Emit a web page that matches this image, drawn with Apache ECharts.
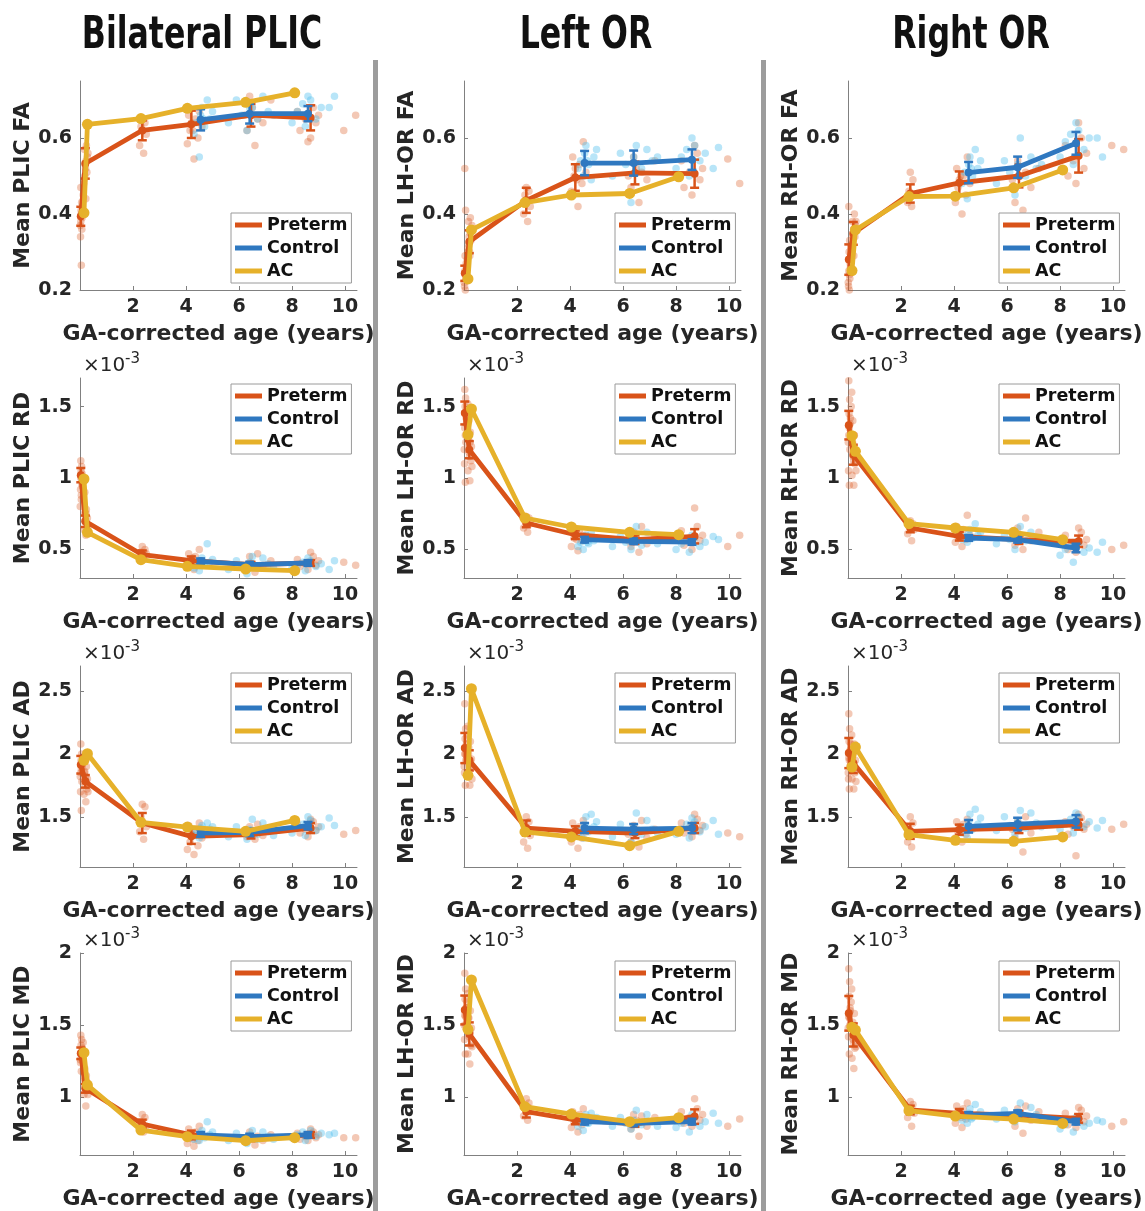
<!DOCTYPE html>
<html>
<head>
<meta charset="utf-8">
<script src="https://cdn.jsdelivr.net/npm/echarts@6/dist/echarts.min.js"></script>
<style>html,body{margin:0;background:#fff}#chart{width:1145px;height:1211px}</style>
</head>
<body>
<div id="chart"></div>
<script>
// subject ages (same subjects in every panel)
const preAges = [
  0.05, 0.02, 0.07, 0.03, 0.08, 0.04, 0.06, 0.03,
  0.22, 0.15, 0.26, 0.19, 0.28, 0.17, 0.24, 0.21,
  2.4, 2.25, 2.5, 2.3, 2.45, 2.35,
  4.3, 4.05, 4.45, 4.15, 4.6, 4.2, 4.35, 4.1, 4.5, 4.25,
  6.6, 6.3, 6.9, 6.2, 6.5, 7.2, 6.4, 6.7,
  8.6, 8.3, 8.9, 8.5, 9.0, 8.2, 8.8, 8.7, 9.95, 10.4,
  0.01, 0.05, 0.09, 0.12, 0.14, 0.18, 0.23, 0.3
];
const conAges = [
  4.5, 4.3, 4.7, 4.4, 4.9, 4.55, 5.0, 4.6, 4.8, 4.65,
  6.3, 5.6, 6.7, 6.1, 7.1, 6.4, 5.9, 6.9, 6.5, 7.3,
  8.5, 8.0, 8.9, 8.2, 9.1, 8.4, 8.7, 8.6, 9.4, 9.6
];
// group mean ages
const xPre = [0.03, 0.2, 2.35, 4.2, 6.45, 8.7];
const xCon = [4.55, 6.4, 8.6];
const xAC = [0.15, 0.28, 2.3, 4.05, 6.25, 8.1];

// ---- PLIC FA
const plicFA_pre = [0.394, 0.533, 0.62, 0.636, 0.66, 0.653];
const plicFA_preErr = [0.025, 0.04, 0.026, 0.036, 0.03, 0.033];
const plicFA_con = [0.648, 0.664, 0.664];
const plicFA_conErr = [0.028, 0.026, 0.02];
const plicFA_ac = [0.403, 0.636, 0.651, 0.678, 0.694, 0.719];
const plicFA_prePts = [0.265, 0.34, 0.36, 0.38, 0.39, 0.41, 0.43, 0.47,
  0.44, 0.49, 0.51, 0.53, 0.55, 0.57, 0.58, 0.52,
  0.56, 0.58, 0.61, 0.63, 0.64, 0.65,
  0.545, 0.585, 0.6, 0.62, 0.63, 0.64, 0.65, 0.66, 0.67, 0.62,
  0.58, 0.62, 0.64, 0.66, 0.68, 0.7, 0.71, 0.65,
  0.59, 0.62, 0.64, 0.65, 0.66, 0.67, 0.68, 0.6, 0.62, 0.66,
  0.37, 0.4, 0.42, 0.45, 0.48, 0.5, 0.54, 0.56];
const plicFA_conPts = [0.55, 0.61, 0.63, 0.64, 0.65, 0.66, 0.67, 0.68, 0.7, 0.65,
  0.62, 0.64, 0.65, 0.66, 0.67, 0.68, 0.7, 0.71, 0.68, 0.66,
  0.63, 0.64, 0.65, 0.67, 0.68, 0.69, 0.7, 0.71, 0.68, 0.71];

// ---- LH-OR FA
const lhFA_pre = [0.244, 0.327, 0.436, 0.496, 0.508, 0.506];
const lhFA_preErr = [0.02, 0.03, 0.033, 0.035, 0.03, 0.037];
const lhFA_con = [0.534, 0.534, 0.543];
const lhFA_conErr = [0.032, 0.033, 0.027];
const lhFA_ac = [0.229, 0.358, 0.43, 0.45, 0.454, 0.498];
const lhFA_prePts = [0.2, 0.21, 0.23, 0.25, 0.27, 0.29, 0.41, 0.52,
  0.29, 0.31, 0.33, 0.34, 0.36, 0.38, 0.39, 0.3,
  0.38, 0.4, 0.42, 0.45, 0.46, 0.47,
  0.42, 0.46, 0.48, 0.5, 0.51, 0.52, 0.53, 0.55, 0.59, 0.49,
  0.43, 0.47, 0.49, 0.5, 0.52, 0.54, 0.55, 0.51,
  0.45, 0.47, 0.49, 0.51, 0.52, 0.54, 0.56, 0.58, 0.545, 0.48,
  0.22, 0.24, 0.26, 0.28, 0.3, 0.32, 0.35, 0.37];
const lhFA_conPts = [0.5, 0.52, 0.53, 0.54, 0.55, 0.56, 0.57, 0.58, 0.49, 0.54,
  0.43, 0.5, 0.52, 0.53, 0.54, 0.55, 0.56, 0.57, 0.58, 0.55,
  0.5, 0.52, 0.54, 0.55, 0.56, 0.57, 0.58, 0.6, 0.52, 0.575];

// ---- RH-OR FA
const rhFA_pre = [0.28, 0.349, 0.454, 0.482, 0.5, 0.553];
const rhFA_preErr = [0.04, 0.03, 0.024, 0.03, 0.03, 0.044];
const rhFA_con = [0.509, 0.523, 0.586];
const rhFA_conErr = [0.028, 0.028, 0.03];
const rhFA_ac = [0.251, 0.358, 0.446, 0.447, 0.469, 0.516];
const rhFA_prePts = [0.2, 0.21, 0.23, 0.25, 0.27, 0.3, 0.33, 0.42,
  0.29, 0.32, 0.34, 0.35, 0.37, 0.38, 0.4, 0.36,
  0.42, 0.43, 0.45, 0.46, 0.49, 0.51,
  0.4, 0.43, 0.45, 0.47, 0.48, 0.49, 0.5, 0.52, 0.55, 0.5,
  0.41, 0.43, 0.47, 0.49, 0.5, 0.52, 0.54, 0.51,
  0.48, 0.5, 0.52, 0.54, 0.56, 0.58, 0.6, 0.64, 0.58, 0.57,
  0.22, 0.24, 0.26, 0.28, 0.31, 0.34, 0.36, 0.38];
const rhFA_conPts = [0.44, 0.48, 0.5, 0.51, 0.52, 0.53, 0.54, 0.55, 0.57, 0.52,
  0.45, 0.48, 0.5, 0.51, 0.52, 0.53, 0.54, 0.55, 0.6, 0.53,
  0.53, 0.55, 0.57, 0.59, 0.6, 0.61, 0.62, 0.64, 0.6, 0.55];

// ---- PLIC RD (x10^-3)
const plicRD_pre = [1.02, 0.697, 0.463, 0.421, 0.393, 0.405];
const plicRD_preErr = [0.05, 0.04, 0.03, 0.03, 0.02, 0.02];
const plicRD_con = [0.417, 0.393, 0.405];
const plicRD_conErr = [0.02, 0.02, 0.02];
const plicRD_ac = [0.993, 0.62, 0.428, 0.382, 0.363, 0.351];
const plicRD_prePts = [0.85, 0.92, 0.96, 1.0, 1.03, 1.05, 1.08, 1.12,
  0.6, 0.64, 0.67, 0.7, 0.72, 0.75, 0.78, 0.69,
  0.43, 0.45, 0.47, 0.48, 0.5, 0.52,
  0.36, 0.38, 0.4, 0.41, 0.42, 0.43, 0.45, 0.47, 0.5, 0.44,
  0.34, 0.36, 0.38, 0.39, 0.4, 0.42, 0.45, 0.47,
  0.36, 0.38, 0.39, 0.4, 0.42, 0.43, 0.45, 0.48, 0.41, 0.39,
  0.8, 0.88, 0.94, 0.98, 1.0, 0.9, 0.75, 0.66];
const plicRD_conPts = [0.35, 0.37, 0.39, 0.4, 0.41, 0.42, 0.43, 0.44, 0.54, 0.4,
  0.33, 0.36, 0.38, 0.39, 0.4, 0.41, 0.42, 0.44, 0.45, 0.37,
  0.35, 0.37, 0.38, 0.39, 0.4, 0.41, 0.42, 0.44, 0.36, 0.42];

// ---- LH-OR RD
const lhRD_pre = [1.455, 1.198, 0.685, 0.603, 0.568, 0.592];
const lhRD_preErr = [0.08, 0.06, 0.03, 0.03, 0.03, 0.05];
const lhRD_con = [0.568, 0.557, 0.552];
const lhRD_conErr = [0.02, 0.02, 0.02];
const lhRD_ac = [1.303, 1.483, 0.72, 0.657, 0.62, 0.603];
const lhRD_prePts = [0.97, 1.1, 1.25, 1.35, 1.42, 1.5, 1.56, 1.62,
  0.98, 1.05, 1.12, 1.18, 1.22, 1.28, 1.32, 1.15,
  0.62, 0.65, 0.68, 0.7, 0.72, 0.73,
  0.49, 0.52, 0.56, 0.58, 0.6, 0.62, 0.63, 0.65, 0.6, 0.57,
  0.48, 0.52, 0.54, 0.56, 0.58, 0.6, 0.62, 0.66,
  0.5, 0.53, 0.56, 0.58, 0.6, 0.63, 0.66, 0.79, 0.52, 0.6,
  1.2, 1.3, 1.38, 1.45, 1.52, 1.4, 1.25, 1.08];
const lhRD_conPts = [0.5, 0.52, 0.54, 0.55, 0.56, 0.57, 0.58, 0.6, 0.62, 0.55,
  0.5, 0.52, 0.53, 0.55, 0.56, 0.57, 0.59, 0.62, 0.66, 0.54,
  0.48, 0.5, 0.52, 0.54, 0.55, 0.56, 0.58, 0.6, 0.59, 0.57];

// ---- RH-OR RD
const rhRD_pre = [1.37, 1.163, 0.65, 0.592, 0.568, 0.557];
const rhRD_preErr = [0.1, 0.07, 0.03, 0.03, 0.03, 0.04];
const rhRD_con = [0.58, 0.568, 0.51];
const rhRD_conErr = [0.02, 0.02, 0.03];
const rhRD_ac = [1.296, 1.187, 0.68, 0.65, 0.62, 0.568];
const rhRD_prePts = [0.95, 1.05, 1.2, 1.3, 1.38, 1.45, 1.55, 1.68,
  0.95, 1.02, 1.1, 1.15, 1.2, 1.25, 1.3, 1.12,
  0.56, 0.61, 0.64, 0.66, 0.68, 0.7,
  0.52, 0.55, 0.57, 0.59, 0.6, 0.62, 0.64, 0.66, 0.74, 0.58,
  0.5, 0.53, 0.56, 0.58, 0.6, 0.62, 0.65, 0.72,
  0.48, 0.5, 0.53, 0.55, 0.57, 0.6, 0.62, 0.65, 0.5, 0.53,
  1.25, 1.35, 1.42, 1.5, 1.6, 1.4, 1.3, 1.05];
const rhRD_conPts = [0.55, 0.57, 0.58, 0.59, 0.6, 0.61, 0.62, 0.64, 0.68, 0.58,
  0.5, 0.54, 0.56, 0.57, 0.58, 0.59, 0.6, 0.62, 0.66, 0.56,
  0.41, 0.46, 0.48, 0.5, 0.51, 0.52, 0.54, 0.55, 0.48, 0.55];

// ---- PLIC AD
const plicAD_pre = [1.914, 1.782, 1.45, 1.344, 1.357, 1.41];
const plicAD_preErr = [0.07, 0.05, 0.08, 0.06, 0.03, 0.04];
const plicAD_con = [1.37, 1.376, 1.429];
const plicAD_conErr = [0.03, 0.03, 0.03];
const plicAD_ac = [1.949, 2.002, 1.456, 1.418, 1.384, 1.471];
const plicAD_prePts = [1.55, 1.7, 1.78, 1.85, 1.9, 1.95, 2.0, 2.08,
  1.62, 1.68, 1.72, 1.75, 1.8, 1.85, 1.9, 1.82,
  1.32, 1.38, 1.42, 1.5, 1.58, 1.6,
  1.2, 1.24, 1.27, 1.3, 1.33, 1.36, 1.4, 1.43, 1.45, 1.35,
  1.32, 1.34, 1.35, 1.37, 1.38, 1.4, 1.42, 1.44,
  1.34, 1.37, 1.39, 1.4, 1.42, 1.44, 1.46, 1.48, 1.36, 1.39,
  1.82, 1.88, 1.92, 1.96, 1.98, 1.86, 1.78, 1.7];
const plicAD_conPts = [1.33, 1.35, 1.37, 1.38, 1.4, 1.41, 1.42, 1.43, 1.45, 1.36,
  1.32, 1.34, 1.36, 1.37, 1.38, 1.4, 1.42, 1.45, 1.48, 1.35,
  1.35, 1.37, 1.39, 1.41, 1.42, 1.44, 1.47, 1.5, 1.49, 1.43];

// ---- LH-OR AD
const lhAD_pre = [2.047, 1.949, 1.41, 1.384, 1.37, 1.41];
const lhAD_preErr = [0.12, 0.08, 0.06, 0.04, 0.04, 0.04];
const lhAD_con = [1.41, 1.402, 1.41];
const lhAD_conErr = [0.04, 0.04, 0.04];
const lhAD_ac = [1.83, 2.519, 1.379, 1.339, 1.27, 1.384];
const lhAD_prePts = [1.75, 1.85, 1.95, 2.0, 2.05, 2.12, 2.2, 2.4,
  1.75, 1.82, 1.88, 1.92, 1.96, 2.0, 2.1, 1.9,
  1.25, 1.3, 1.35, 1.4, 1.46, 1.5,
  1.25, 1.3, 1.33, 1.35, 1.38, 1.4, 1.42, 1.45, 1.47, 1.36,
  1.26, 1.3, 1.33, 1.36, 1.38, 1.4, 1.43, 1.47,
  1.34, 1.37, 1.39, 1.41, 1.43, 1.45, 1.48, 1.52, 1.37, 1.34,
  1.9, 2.0, 2.08, 2.15, 2.22, 2.05, 1.95, 1.8];
const lhAD_conPts = [1.33, 1.36, 1.38, 1.4, 1.42, 1.44, 1.46, 1.5, 1.52, 1.41,
  1.3, 1.34, 1.36, 1.38, 1.4, 1.42, 1.44, 1.47, 1.53, 1.37,
  1.33, 1.36, 1.38, 1.4, 1.42, 1.44, 1.46, 1.49, 1.47, 1.36];

// ---- RH-OR AD
const rhAD_pre = [2.007, 1.928, 1.384, 1.397, 1.41, 1.437];
const rhAD_preErr = [0.12, 0.08, 0.06, 0.04, 0.04, 0.04];
const rhAD_con = [1.424, 1.442, 1.463];
const rhAD_conErr = [0.05, 0.05, 0.05];
const rhAD_ac = [1.896, 2.055, 1.357, 1.312, 1.304, 1.339];
const rhAD_prePts = [1.72, 1.8, 1.9, 1.97, 2.03, 2.1, 2.2, 2.32,
  1.72, 1.8, 1.85, 1.9, 1.95, 2.0, 2.08, 1.88,
  1.26, 1.3, 1.36, 1.4, 1.45, 1.5,
  1.3, 1.33, 1.36, 1.38, 1.4, 1.42, 1.44, 1.46, 1.48, 1.38,
  1.22, 1.33, 1.37, 1.4, 1.42, 1.44, 1.46, 1.5,
  1.19, 1.36, 1.4, 1.42, 1.44, 1.46, 1.49, 1.52, 1.4, 1.44,
  1.85, 1.95, 2.02, 2.08, 2.15, 2.0, 1.92, 1.78];
const rhAD_conPts = [1.33, 1.37, 1.4, 1.42, 1.44, 1.46, 1.49, 1.52, 1.56, 1.4,
  1.36, 1.39, 1.41, 1.43, 1.45, 1.47, 1.5, 1.53, 1.55, 1.42,
  1.37, 1.4, 1.42, 1.44, 1.46, 1.48, 1.5, 1.53, 1.41, 1.47];

// ---- PLIC MD
const plicMD_pre = [1.305, 1.062, 0.815, 0.739, 0.716, 0.739];
const plicMD_preErr = [0.04, 0.03, 0.03, 0.03, 0.02, 0.02];
const plicMD_con = [0.739, 0.727, 0.739];
const plicMD_conErr = [0.02, 0.02, 0.02];
const plicMD_ac = [1.309, 1.085, 0.773, 0.727, 0.699, 0.72];
const plicMD_prePts = [1.18, 1.24, 1.28, 1.3, 1.33, 1.36, 1.4, 1.43,
  0.94, 1.02, 1.05, 1.08, 1.1, 1.12, 1.15, 1.06,
  0.76, 0.78, 0.8, 0.83, 0.86, 0.88,
  0.66, 0.68, 0.7, 0.72, 0.73, 0.74, 0.76, 0.78, 0.8, 0.71,
  0.67, 0.69, 0.7, 0.71, 0.72, 0.74, 0.76, 0.73,
  0.7, 0.71, 0.72, 0.73, 0.74, 0.75, 0.76, 0.78, 0.72, 0.72,
  1.26, 1.3, 1.34, 1.38, 1.32, 1.2, 1.12, 1.02];
const plicMD_conPts = [0.7, 0.71, 0.72, 0.73, 0.74, 0.75, 0.76, 0.77, 0.83, 0.73,
  0.68, 0.7, 0.71, 0.72, 0.73, 0.74, 0.75, 0.76, 0.77, 0.71,
  0.7, 0.72, 0.73, 0.74, 0.75, 0.76, 0.77, 0.73, 0.74, 0.75];

// ---- LH-OR MD
const lhMD_pre = [1.605, 1.439, 0.9, 0.843, 0.815, 0.866];
const lhMD_preErr = [0.1, 0.08, 0.04, 0.03, 0.02, 0.05];
const lhMD_con = [0.831, 0.819, 0.831];
const lhMD_conErr = [0.02, 0.02, 0.02];
const lhMD_ac = [1.471, 1.813, 0.935, 0.884, 0.831, 0.859];
const lhMD_prePts = [1.3, 1.4, 1.5, 1.57, 1.62, 1.68, 1.75, 1.86,
  1.23, 1.3, 1.36, 1.42, 1.48, 1.55, 1.6, 1.45,
  0.84, 0.87, 0.9, 0.93, 0.96, 0.99,
  0.76, 0.79, 0.81, 0.83, 0.85, 0.87, 0.88, 0.9, 0.92, 0.84,
  0.73, 0.78, 0.8, 0.82, 0.84, 0.86, 0.88, 0.87,
  0.8, 0.82, 0.84, 0.86, 0.88, 0.9, 0.92, 0.99, 0.8, 0.85,
  1.5, 1.56, 1.62, 1.66, 1.72, 1.55, 1.45, 1.35];
const lhMD_conPts = [0.77, 0.8, 0.82, 0.83, 0.84, 0.85, 0.86, 0.88, 0.89, 0.82,
  0.78, 0.8, 0.81, 0.82, 0.83, 0.84, 0.86, 0.88, 0.91, 0.8,
  0.76, 0.79, 0.8, 0.82, 0.83, 0.84, 0.86, 0.88, 0.89, 0.82];

// ---- RH-OR MD
const rhMD_pre = [1.582, 1.432, 0.912, 0.889, 0.877, 0.854];
const rhMD_preErr = [0.12, 0.08, 0.03, 0.03, 0.03, 0.03];
const rhMD_con = [0.877, 0.889, 0.831];
const rhMD_conErr = [0.02, 0.02, 0.02];
const rhMD_ac = [1.485, 1.466, 0.907, 0.87, 0.849, 0.819];
const rhMD_prePts = [1.3, 1.42, 1.5, 1.56, 1.62, 1.7, 1.8, 1.89,
  1.2, 1.27, 1.34, 1.4, 1.45, 1.5, 1.58, 1.38,
  0.8, 0.86, 0.89, 0.92, 0.95, 0.97,
  0.79, 0.82, 0.85, 0.87, 0.88, 0.9, 0.92, 0.94, 0.96, 0.86,
  0.75, 0.8, 0.84, 0.86, 0.88, 0.9, 0.92, 0.94,
  0.79, 0.81, 0.83, 0.85, 0.87, 0.89, 0.91, 0.93, 0.8, 0.83,
  1.48, 1.55, 1.6, 1.66, 1.75, 1.52, 1.45, 1.35];
const rhMD_conPts = [0.82, 0.84, 0.86, 0.87, 0.88, 0.89, 0.9, 0.92, 0.95, 0.85,
  0.83, 0.85, 0.86, 0.87, 0.88, 0.9, 0.91, 0.93, 0.96, 0.84,
  0.76, 0.78, 0.8, 0.81, 0.82, 0.84, 0.85, 0.86, 0.84, 0.83];

const colTitles = ['Bilateral PLIC', 'Left OR', 'Right OR'];
const yNames = [
  ['Mean PLIC FA', 'Mean LH-OR FA', 'Mean RH-OR FA'],
  ['Mean PLIC RD', 'Mean LH-OR RD', 'Mean RH-OR RD'],
  ['Mean PLIC AD', 'Mean LH-OR AD', 'Mean RH-OR AD'],
  ['Mean PLIC MD', 'Mean LH-OR MD', 'Mean RH-OR MD']
];
const yRange = [[0.2, 0.75], [0.3, 1.7], [1.1, 2.7], [0.6, 2]];
const yTicks = [[0.2, 0.4, 0.6], [0.5, 1, 1.5], [1.5, 2, 2.5], [1, 1.5, 2]];
const xTicks = [2, 4, 6, 8, 10];

const panels = [
  [plicFA_pre, plicFA_preErr, plicFA_con, plicFA_conErr, plicFA_ac, plicFA_prePts, plicFA_conPts],
  [lhFA_pre, lhFA_preErr, lhFA_con, lhFA_conErr, lhFA_ac, lhFA_prePts, lhFA_conPts],
  [rhFA_pre, rhFA_preErr, rhFA_con, rhFA_conErr, rhFA_ac, rhFA_prePts, rhFA_conPts],
  [plicRD_pre, plicRD_preErr, plicRD_con, plicRD_conErr, plicRD_ac, plicRD_prePts, plicRD_conPts],
  [lhRD_pre, lhRD_preErr, lhRD_con, lhRD_conErr, lhRD_ac, lhRD_prePts, lhRD_conPts],
  [rhRD_pre, rhRD_preErr, rhRD_con, rhRD_conErr, rhRD_ac, rhRD_prePts, rhRD_conPts],
  [plicAD_pre, plicAD_preErr, plicAD_con, plicAD_conErr, plicAD_ac, plicAD_prePts, plicAD_conPts],
  [lhAD_pre, lhAD_preErr, lhAD_con, lhAD_conErr, lhAD_ac, lhAD_prePts, lhAD_conPts],
  [rhAD_pre, rhAD_preErr, rhAD_con, rhAD_conErr, rhAD_ac, rhAD_prePts, rhAD_conPts],
  [plicMD_pre, plicMD_preErr, plicMD_con, plicMD_conErr, plicMD_ac, plicMD_prePts, plicMD_conPts],
  [lhMD_pre, lhMD_preErr, lhMD_con, lhMD_conErr, lhMD_ac, lhMD_prePts, lhMD_conPts],
  [rhMD_pre, rhMD_preErr, rhMD_con, rhMD_conErr, rhMD_ac, rhMD_prePts, rhMD_conPts]
];

// layout
const colLeft = [80, 464, 848];
const gridW = 277;
const rowTop = [81, 378, 666, 953];
const rowH = [209, 200, 201, 202];
const legendTop = [213, 384, 673, 961];

const RED = '#D95319', BLUE = '#2F78C0', GOLD = '#E6B12A';
const FONT = 'DejaVu Sans';
const TXT = '#262626';
const AXC = '#808080';

function errBar(params, api) {
  const top = api.coord([api.value(0), api.value(2)]);
  const bot = api.coord([api.value(0), api.value(1)]);
  const s = { stroke: api.visual('color'), lineWidth: 2.5 };
  const w = 4.5;
  return {
    type: 'group',
    children: [
      { type: 'line', shape: { x1: top[0], y1: top[1], x2: bot[0], y2: bot[1] }, style: s },
      { type: 'line', shape: { x1: top[0] - w, y1: top[1], x2: top[0] + w, y2: top[1] }, style: s },
      { type: 'line', shape: { x1: bot[0] - w, y1: bot[1], x2: bot[0] + w, y2: bot[1] }, style: s }
    ]
  };
}

const grid = [], xAxis = [], yAxis = [], series = [], legend = [], graphic = [];

panels.forEach((p, i) => {
  const r = Math.floor(i / 3), c = i % 3;
  const [pre, preErr, con, conErr, ac, prePts, conPts] = p;
  grid.push({ left: colLeft[c], top: rowTop[r], width: gridW, height: rowH[r] });
  xAxis.push({
    gridIndex: i, type: 'value', min: 0, max: 10.45,
    axisLine: { show: true, onZero: false, lineStyle: { color: AXC } },
    axisTick: { show: true, inside: true, length: 4, customValues: xTicks, lineStyle: { color: AXC } },
    axisLabel: { customValues: xTicks, margin: 8, fontSize: 19, fontWeight: 'bold', color: TXT, fontFamily: FONT },
    splitLine: { show: false },
    name: 'GA-corrected age (years)', nameLocation: 'middle', nameGap: 33,
    nameTextStyle: { fontSize: 22, fontWeight: 'bold', color: TXT, fontFamily: FONT }
  });
  yAxis.push({
    gridIndex: i, type: 'value', min: yRange[r][0], max: yRange[r][1],
    axisLine: { show: true, onZero: false, lineStyle: { color: AXC } },
    axisTick: { show: true, inside: true, length: 4, customValues: yTicks[r], lineStyle: { color: AXC } },
    axisLabel: { customValues: yTicks[r], margin: 8, fontSize: 19, fontWeight: 'bold', color: TXT, fontFamily: FONT,
      formatter: v => String(+(+v).toFixed(2)) },
    splitLine: { show: false },
    name: yNames[r][c], nameLocation: 'middle', nameGap: 44,
    nameTextStyle: { fontSize: 22, fontWeight: 'bold', color: TXT, fontFamily: FONT }
  });

  const ax = { xAxisIndex: i, yAxisIndex: i };
  series.push(Object.assign({
    type: 'scatter', name: 'Preterm subjects', silent: true, z: 1,
    data: preAges.map((a, k) => [a, prePts[k]]),
    symbolSize: 7.5, itemStyle: { color: RED, opacity: 0.32 }
  }, ax));
  series.push(Object.assign({
    type: 'scatter', name: 'Control subjects', silent: true, z: 1,
    data: conAges.map((a, k) => [a, conPts[k]]),
    symbolSize: 7.5, itemStyle: { color: '#4DBEEE', opacity: 0.4 }
  }, ax));
  series.push(Object.assign({
    type: 'line', name: 'Preterm', z: 2,
    data: xPre.map((x, k) => [x, pre[k]]),
    symbol: 'circle', symbolSize: 8,
    lineStyle: { color: RED, width: 4.8 }, itemStyle: { color: RED }
  }, ax));
  series.push(Object.assign({
    type: 'custom', name: 'Preterm sd', z: 2, renderItem: errBar,
    itemStyle: { color: RED }, encode: { x: 0, y: [1, 2] },
    data: xPre.map((x, k) => [x, pre[k] - preErr[k], pre[k] + preErr[k]])
  }, ax));
  series.push(Object.assign({
    type: 'line', name: 'Control', z: 3,
    data: xCon.map((x, k) => [x, con[k]]),
    symbol: 'circle', symbolSize: 8,
    lineStyle: { color: BLUE, width: 4.8 }, itemStyle: { color: BLUE }
  }, ax));
  series.push(Object.assign({
    type: 'custom', name: 'Control sd', z: 3, renderItem: errBar,
    itemStyle: { color: BLUE }, encode: { x: 0, y: [1, 2] },
    data: xCon.map((x, k) => [x, con[k] - conErr[k], con[k] + conErr[k]])
  }, ax));
  series.push(Object.assign({
    type: 'line', name: 'AC', z: 4,
    data: xAC.map((x, k) => [x, ac[k]]),
    symbol: 'circle', symbolSize: 11,
    lineStyle: { color: GOLD, width: 4.8 }, itemStyle: { color: GOLD }
  }, ax));

  legend.push({
    data: ['Preterm', 'Control', 'AC'], orient: 'vertical', selectedMode: false,
    left: colLeft[c] + 151, top: legendTop[r],
    icon: 'rect', itemWidth: 27, itemHeight: 5, itemGap: 5,
    padding: [3, 4, 3, 4], borderColor: '#9a9a9a', borderWidth: 1, borderRadius: 0,
    backgroundColor: '#fff',
    textStyle: { fontSize: 17.5, fontWeight: 'bold', color: '#111', fontFamily: FONT, lineHeight: 18 }
  });

  if (r > 0) {
    graphic.push({ type: 'text', x: colLeft[c] + 3, y: rowTop[r] - 12.5,
      style: { text: '×10', font: '20px "DejaVu Sans"', fill: TXT, textVerticalAlign: 'middle', verticalAlign: 'middle' } });
    graphic.push({ type: 'text', x: colLeft[c] + 45, y: rowTop[r] - 19,
      style: { text: '-3', font: '15px "DejaVu Sans"', fill: TXT, textVerticalAlign: 'middle', verticalAlign: 'middle' } });
  }
});

// column titles (narrow bold face, squeezed horizontally)
const titleX = [202, 586, 971];
colTitles.forEach((t, c) => {
  graphic.push({ type: 'text', x: titleX[c], y: 36, scaleX: 0.78,
    style: { text: t, font: 'bold 45px "DejaVu Sans Condensed", "DejaVu Sans", sans-serif', fill: '#111',
      textAlign: 'center', align: 'center', textVerticalAlign: 'middle', verticalAlign: 'middle' } });
});
// column separators
[373, 761].forEach(x => {
  graphic.push({ type: 'rect', shape: { x: x, y: 60, width: 5, height: 1151 }, style: { fill: '#9c9c9c' } });
});

const chart = echarts.init(document.getElementById('chart'));
chart.setOption({
  animation: false,
  backgroundColor: '#fff',
  grid, xAxis, yAxis, series, legend, graphic
});
</script>
</body>
</html>
